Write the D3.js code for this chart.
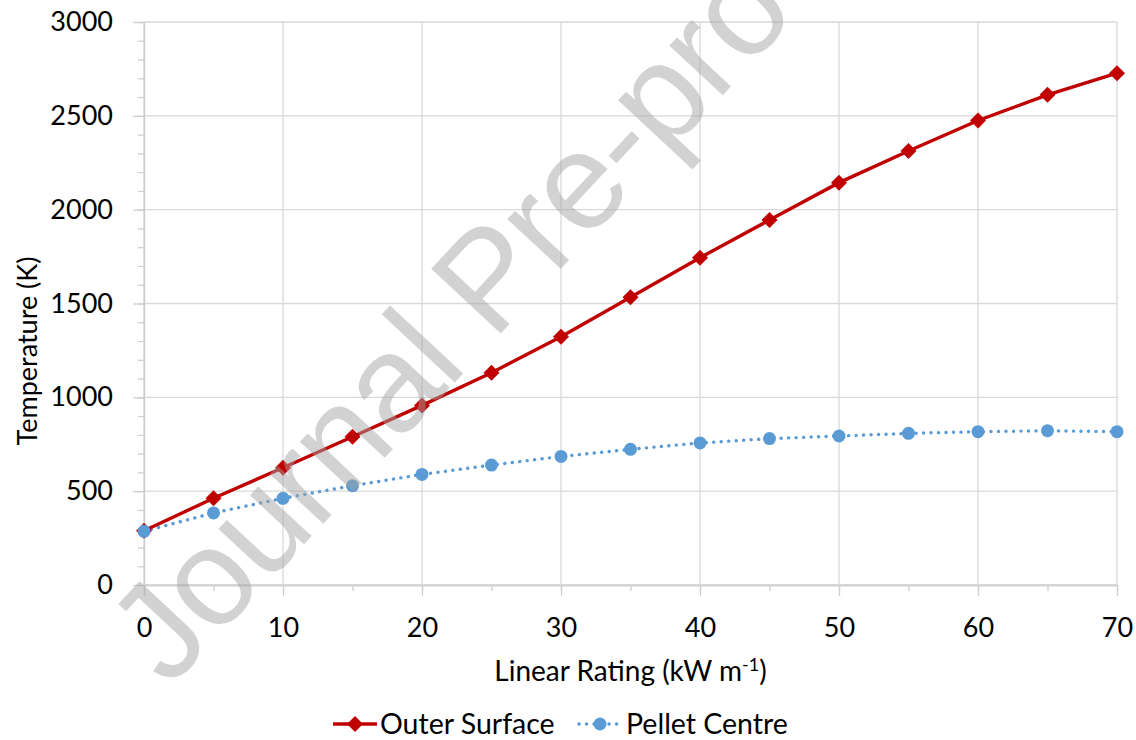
<!DOCTYPE html>
<html>
<head>
<meta charset="utf-8">
<script src="https://cdn.jsdelivr.net/npm/d3@7"></script>
<style>
  html, body { margin: 0; padding: 0; background: #fff; }
  svg { display: block; }
  text { font-family: Lato, "Open Sans", sans-serif; }
</style>
</head>
<body>
<svg id="chart" width="1136" height="740"></svg>
<script>
// Linear rating (kW/m) at which temperatures were computed
const rating = [0, 5, 10, 15, 20, 25, 30, 35, 40, 45, 50, 55, 60, 65, 70];
// Temperature (K) at the outer surface
const outerSurface = [289, 462, 625, 790, 957, 1131, 1323, 1533, 1744, 1945, 2144, 2313, 2475, 2612, 2727];
// Temperature (K) at the pellet centre
const pelletCentre = [286, 384, 462, 529, 589, 639, 685, 723, 757, 780, 794, 808, 817, 822, 817];

const xMajorTicks = [0, 10, 20, 30, 40, 50, 60, 70];
const xMinorTicks = d3.range(0, 71, 5);
const yMajorTicks = [0, 500, 1000, 1500, 2000, 2500, 3000];
const yMinorTicks = d3.range(0, 3001, 100);

const svg = d3.select("#chart");
const x = d3.scaleLinear().domain([0, 70]).range([144, 1117]);
const y = d3.scaleLinear().domain([0, 3000]).range([585, 22]);

const gridColor = "#d9d9d9";
const red = "#c00000";
const blue = "#5b9bd5";

// gridlines
svg.append("g").selectAll("line").data(yMajorTicks).join("line")
  .attr("x1", x(0)).attr("x2", x(70))
  .attr("y1", d => y(d)).attr("y2", d => y(d))
  .attr("stroke", gridColor).attr("stroke-width", 1.3);
svg.append("g").selectAll("line").data(xMajorTicks).join("line")
  .attr("x1", d => x(d)).attr("x2", d => x(d))
  .attr("y1", y(0)).attr("y2", y(3000))
  .attr("stroke", gridColor).attr("stroke-width", 1.3);

function styleAxis(g) {
  g.select(".domain").attr("stroke", "#cfcfcf").attr("stroke-width", 1.3);
  g.selectAll(".tick line").attr("stroke", "#cfcfcf").attr("stroke-width", 1.3);
  g.selectAll("text").style("font-size", "27px").style("fill", "#000");
}

// y axis: minor then major ticks
svg.append("g").attr("transform", `translate(${x(0)},0)`)
  .call(d3.axisLeft(y).tickValues(yMinorTicks).tickSize(6).tickFormat("").tickSizeOuter(0))
  .call(styleAxis);
svg.append("g").attr("transform", `translate(${x(0)},0)`)
  .call(d3.axisLeft(y).tickValues(yMajorTicks).tickSize(11).tickPadding(20).tickSizeOuter(0).tickFormat(d3.format("d")))
  .call(styleAxis);

// x axis: minor then major ticks
svg.append("g").attr("transform", `translate(0,${y(0)})`)
  .call(d3.axisBottom(x).tickValues(xMinorTicks).tickSize(6).tickFormat("").tickSizeOuter(0))
  .call(styleAxis);
svg.append("g").attr("transform", `translate(0,${y(0)})`)
  .call(d3.axisBottom(x).tickValues(xMajorTicks).tickSize(11).tickPadding(22).tickSizeOuter(0).tickFormat(d3.format("d")))
  .call(styleAxis);

// axis titles
const xTitle = svg.append("text")
  .attr("x", (x(0) + x(70)) / 2).attr("y", 681)
  .attr("text-anchor", "middle").style("font-size", "28px").style("fill", "#000");
xTitle.append("tspan").text("Linear Rating (kW m");
xTitle.append("tspan").attr("dy", -10).style("font-size", "18px").text("-1");
xTitle.append("tspan").attr("dy", 10).text(")");

svg.append("text")
  .attr("transform", "translate(37,351) rotate(-90)")
  .attr("text-anchor", "middle").style("font-size", "27px").style("fill", "#000")
  .text("Temperature (K)");

// series
const line = d3.line().x((d, i) => x(rating[i])).y(d => y(d));

svg.append("path").datum(pelletCentre)
  .attr("d", line).attr("fill", "none")
  .attr("stroke", blue).attr("stroke-width", 3.4)
  .attr("stroke-linecap", "round").attr("stroke-dasharray", "0.1,7.4");

svg.append("path").datum(outerSurface)
  .attr("d", line).attr("fill", "none")
  .attr("stroke", red).attr("stroke-width", 3.4);

const diamond = r => `M0,${-r}L${r},0L0,${r}L${-r},0Z`;

svg.append("g").selectAll("path").data(outerSurface).join("path")
  .attr("transform", (d, i) => `translate(${x(rating[i])},${y(d)})`)
  .attr("d", diamond(8)).attr("fill", red);

svg.append("g").selectAll("circle").data(pelletCentre).join("circle")
  .attr("cx", (d, i) => x(rating[i])).attr("cy", d => y(d))
  .attr("r", 6.5).attr("fill", blue);

// legend
const legendY = 724;
const lg = svg.append("g");
lg.append("line").attr("x1", 333).attr("x2", 377).attr("y1", legendY).attr("y2", legendY)
  .attr("stroke", red).attr("stroke-width", 3.4);
lg.append("path").attr("transform", `translate(355,${legendY})`).attr("d", diamond(8)).attr("fill", red);
lg.append("text").attr("x", 380).attr("y", legendY).attr("dy", "0.36em")
  .style("font-size", "28.5px").style("fill", "#000").text("Outer Surface");

lg.append("line").attr("x1", 579).attr("x2", 621).attr("y1", legendY).attr("y2", legendY)
  .attr("stroke", blue).attr("stroke-width", 3.4)
  .attr("stroke-linecap", "round").attr("stroke-dasharray", "0.1,7.4");
lg.append("circle").attr("cx", 600).attr("cy", legendY).attr("r", 6.5).attr("fill", blue);
lg.append("text").attr("x", 626).attr("y", legendY).attr("dy", "0.36em")
  .style("font-size", "28.5px").style("fill", "#000").text("Pellet Centre");

// watermark
svg.append("text")
  .attr("transform", "translate(169,689) rotate(-47)")
  .style("font-family", "'Liberation Sans', Arial, sans-serif")
  .style("font-size", "138px")
  .style("letter-spacing", "-2px")
  .style("fill", "#a3a3a3").style("fill-opacity", 0.49)
  .text("Journal Pre-proof");
</script>
</body>
</html>
